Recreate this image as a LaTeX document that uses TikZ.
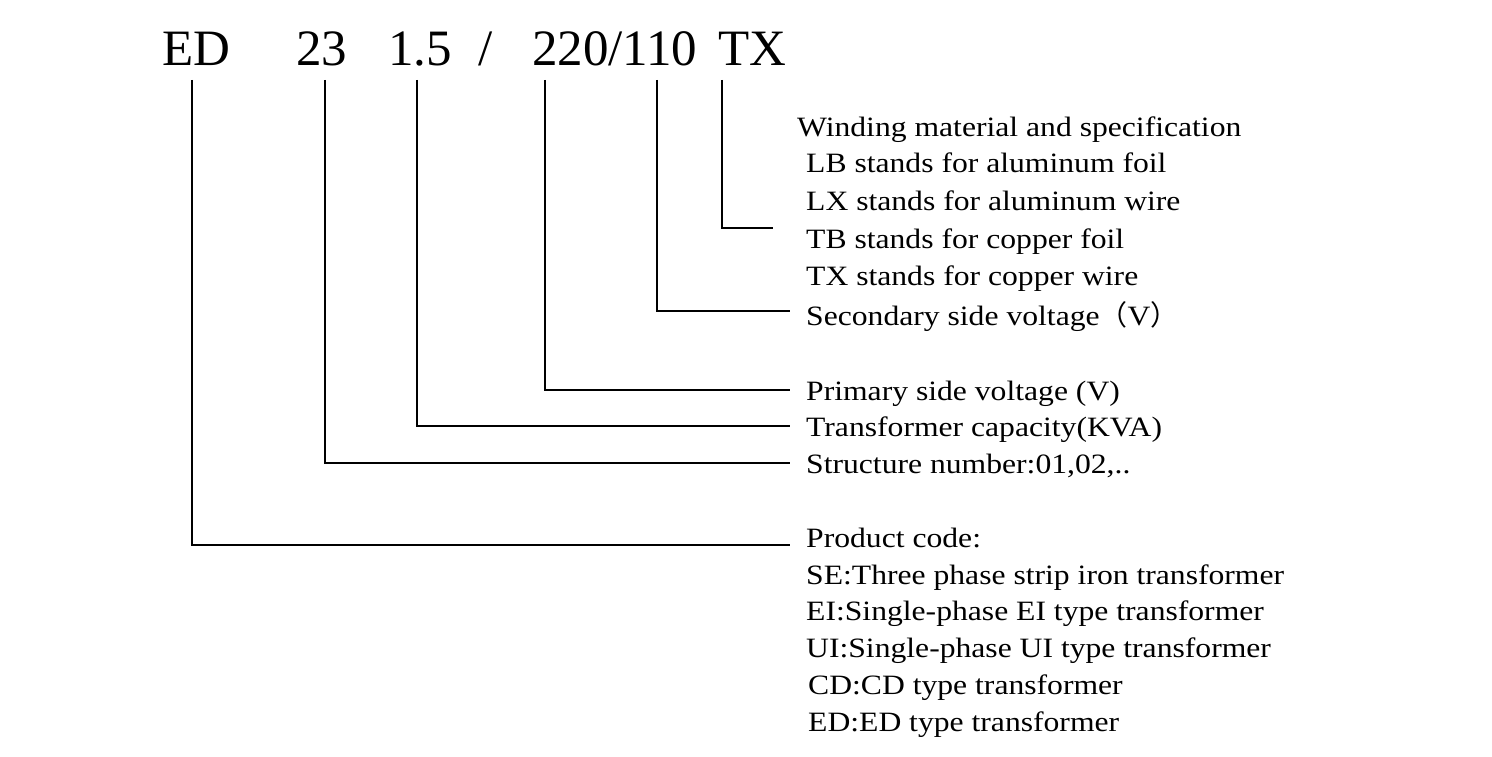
\documentclass[tikz,border=0pt]{standalone}
\usepackage{fontspec}
\setmainfont{Liberation Serif}
\newfontfamily\labfont[FakeStretch=1.13]{Liberation Serif}
\newfontfamily\cjk{Noto Sans CJK SC}
\begin{document}
\begin{tikzpicture}[x=1pt,y=-1pt,
  big/.style={anchor=base west,inner sep=0pt,font=\fontsize{51}{60}\selectfont},
  lab/.style={anchor=base west,inner sep=0pt,font=\labfont\fontsize{28}{32}\selectfont},
  ln/.style={line width=1.4pt}]
\useasboundingbox (0,0) rectangle (1492,757);
\node[big] (ed) at (162,66) {ED};
\node[big] (n23) at (296,66) {23};
\node[big] (cap) at (388,66) {1.5};
\node[big] (sl) at (478,66) {/};
\node[big] (v) at (532,66) {220/110};
\node[big] (tx) at (718,66) {TX};
\node[lab] (w0) at (797,137) {Winding material and specification};
\node[lab] (w1) at (806,173) {LB stands for aluminum foil};
\node[lab] (w2) at (806,211) {LX stands for aluminum wire};
\node[lab] (w3) at (806,248) {TB stands for copper foil};
\node[lab] (w4) at (806,285) {TX stands for copper wire};
\node[lab] (sec) at (806,325) {Secondary side voltage{\cjk （}V{\cjk ）}};
\node[lab] (pri) at (806,400) {Primary side voltage (V)};
\node[lab] (tc) at (806,436) {Transformer capacity(KVA)};
\node[lab] (st) at (806,473) {Structure number:01,02,..};
\node[lab] (pc) at (806,547) {Product code:};
\node[lab] (p1) at (806,584) {SE:Three phase strip iron transformer};
\node[lab] (p2) at (806,620) {EI:Single-phase EI type transformer};
\node[lab] (p3) at (806,657) {UI:Single-phase UI type transformer};
\node[lab] (p4) at (808,694) {CD:CD type transformer};
\node[lab] (p5) at (808,731) {ED:ED type transformer};
\coordinate (a1) at (192,80); \coordinate (b1) at (790,545);
\coordinate (a2) at (325,80); \coordinate (b2) at (790,463);
\coordinate (a3) at (417,80); \coordinate (b3) at (790,426);
\coordinate (a4) at (545,80); \coordinate (b4) at (790,390);
\coordinate (a5) at (657,80); \coordinate (b5) at (790,311);
\coordinate (a6) at (722,80); \coordinate (b6) at (773,228);
\foreach \i in {1,...,6} \draw[ln] (a\i) |- (b\i);
\end{tikzpicture}
\end{document}
